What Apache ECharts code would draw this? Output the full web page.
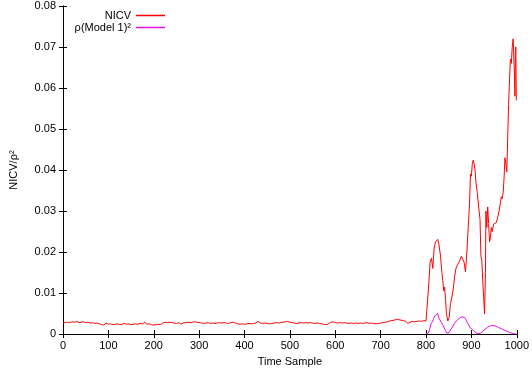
<!DOCTYPE html>
<html>
<head>
<meta charset="utf-8">
<script src="https://cdn.jsdelivr.net/npm/echarts@6/dist/echarts.min.js"></script>
<style>
  html, body { margin: 0; padding: 0; background: #fff; }
  #chart { width: 532px; height: 372px; }
</style>
</head>
<body>
<div id="chart"></div>
<script>
// quiet part of the NICV trace, one reading every 5 samples from 0 to 800
const baselineStep = 5;
const nicvBaseline = [
  0.0027, 0.0028, 0.0029, 0.0028, 0.0030, 0.0029, 0.0031, 0.0028, 0.0029, 0.0030, 0.0028,
  0.0029, 0.0027, 0.0028, 0.0026, 0.0027, 0.0025,
  0.0023, 0.0022, 0.0027, 0.0024,
  0.0025, 0.0023, 0.0024, 0.0025, 0.0023, 0.0024, 0.0026, 0.0024, 0.0025, 0.0023, 0.0024, 0.0025,
  0.0024, 0.0026, 0.0025, 0.0029, 0.0024, 0.0025, 0.0023, 0.0022, 0.0023, 0.0024, 0.0023,
  0.0027, 0.0029, 0.0028, 0.0029, 0.0028, 0.0027, 0.0026, 0.0028, 0.0024, 0.0027, 0.0028, 0.0029,
  0.0028, 0.0029, 0.0030, 0.0029, 0.0028,
  0.0027, 0.0026, 0.0027, 0.0028, 0.0026, 0.0027, 0.0026, 0.0027, 0.0028, 0.0027, 0.0028, 0.0027,
  0.0026, 0.0028, 0.0029, 0.0027, 0.0025, 0.0024, 0.0025, 0.0024,
  0.0025, 0.0026, 0.0025, 0.0026, 0.0027, 0.0031, 0.0027, 0.0026, 0.0027, 0.0026, 0.0025, 0.0026,
  0.0027, 0.0028, 0.0027, 0.0028, 0.0029, 0.0030, 0.0031, 0.0029,
  0.0028, 0.0027, 0.0026, 0.0027, 0.0028, 0.0027, 0.0028, 0.0027, 0.0028, 0.0027, 0.0026, 0.0027,
  0.0026, 0.0025, 0.0024, 0.0023, 0.0025, 0.0029, 0.0030, 0.0028,
  0.0027, 0.0028, 0.0027, 0.0028, 0.0027, 0.0026, 0.0027, 0.0026, 0.0027, 0.0026, 0.0027, 0.0026,
  0.0027, 0.0028, 0.0026, 0.0027, 0.0026, 0.0025, 0.0026, 0.0027,
  0.0028, 0.0029, 0.0030, 0.0032, 0.0033, 0.0034, 0.0036, 0.0035, 0.0034, 0.0033, 0.0031, 0.0026,
  0.0029, 0.0031, 0.0030, 0.0031, 0.0032, 0.0031, 0.0033, 0.0032
];

// active part of the NICV trace, 803..999
const nicvSamples = [
  803, 806, 809, 812, 815, 818, 821, 824, 826, 829, 832, 835, 837, 839, 841, 843, 845, 848,
  851, 854, 857, 860, 863, 866, 870, 874, 878, 881, 884, 887, 890, 893, 896, 898, 900, 902,
  904, 906, 908, 910, 913, 916, 919, 921, 923, 925, 927, 929, 931, 932, 934, 936, 938, 940,
  942, 944, 946, 949, 952, 955, 958, 961, 964, 966, 968, 970, 972, 974, 976, 978, 980, 982,
  984, 986, 988, 990, 992, 993, 995, 996, 997, 998, 999
];
const nicvValues = [
  0.0035, 0.0120, 0.0175, 0.0185, 0.0160, 0.0210, 0.0225, 0.0222, 0.0231, 0.0215, 0.0190, 0.0150,
  0.0130, 0.0105, 0.0115, 0.0085, 0.0050, 0.0032,
  0.0040, 0.0075, 0.0090, 0.0110, 0.0140, 0.0160, 0.0170, 0.0178, 0.0190, 0.0188, 0.0175, 0.0152,
  0.0200, 0.0260, 0.0320, 0.0390, 0.0385, 0.0415,
  0.0424, 0.0415, 0.0400, 0.0370, 0.0345, 0.0310, 0.0280, 0.0190, 0.0180, 0.0130, 0.0090, 0.0049,
  0.0150, 0.0300, 0.0260, 0.0310, 0.0270, 0.0225,
  0.0235, 0.0260, 0.0250, 0.0268, 0.0265, 0.0272, 0.0285, 0.0300, 0.0320, 0.0335, 0.0330, 0.0345,
  0.0380, 0.0430, 0.0415, 0.0395, 0.0480, 0.0560,
  0.0620, 0.0670, 0.0660, 0.0700, 0.0720, 0.0690, 0.0630, 0.0580, 0.0690, 0.0700, 0.0570
];

const rhoSamples = [
  800, 805, 808, 811, 814, 817, 820, 822, 824, 826, 828, 831, 834, 837, 840, 843, 846, 848,
  851, 854, 858, 862, 866, 870, 874, 878, 882, 885, 888, 891, 894, 897, 900, 904, 908, 912,
  916, 920, 924, 928, 932, 936, 940, 944, 948, 952, 956, 960, 964, 968, 972, 976, 980, 984,
  988, 992, 996, 1000
];
const rhoValues = [
  0.0000, 0.0002, 0.0012, 0.0025, 0.0030, 0.0038, 0.0045, 0.0049, 0.0046, 0.0050, 0.0040, 0.0038,
  0.0028, 0.0022, 0.0015, 0.0008, 0.0002, 0.0000,
  0.0004, 0.0010, 0.0017, 0.0025, 0.0031, 0.0036, 0.0040, 0.0042, 0.0044, 0.0041, 0.0035, 0.0028,
  0.0022, 0.0016, 0.0012, 0.0009, 0.0005, 0.0002,
  0.0000, 0.0001, 0.0005, 0.0010, 0.0013, 0.0017, 0.0020, 0.0021, 0.0020, 0.0020, 0.0018, 0.0016,
  0.0014, 0.0012, 0.0010, 0.0008, 0.0006, 0.0004,
  0.0002, 0.0001, 0.0000, 0.0000
];

const nicvData = nicvBaseline.map((v, i) => [i * baselineStep, v])
  .concat(nicvSamples.map((s, i) => [s, nicvValues[i]]));
const rhoData = rhoSamples.map((s, i) => [s, rhoValues[i]]);

const font = 'Liberation Sans, Arial, sans-serif';
const black = '#000';

const tickStyle = { show: true, inside: true, length: 4, lineStyle: { color: black } };
const lineAxis = { show: true, lineStyle: { color: black, width: 1 } };
const legendText = { fontFamily: font, fontSize: 11, color: black };

const chart = echarts.init(document.getElementById('chart'));

chart.setOption({
  animation: false,
  textStyle: { fontFamily: font },
  grid: { left: 60, right: 10, top: 6, bottom: 35 },
  legend: [
    {
      data: [{ name: 'NICV', icon: 'rect' }],
      right: 367,
      top: 10,
      padding: 0,
      align: 'right',
      itemWidth: 29,
      itemHeight: 1.5,
      textStyle: legendText,
    },
    {
      data: [{ name: 'ρ(Model 1)²', icon: 'rect' }],
      right: 367,
      top: 22,
      padding: 0,
      align: 'right',
      itemWidth: 29,
      itemHeight: 1.5,
      textStyle: legendText,
    },
  ],
  xAxis: [
    {
      type: 'value',
      position: 'bottom',
      min: 0,
      max: 1000,
      interval: 100,
      name: 'Time Sample',
      nameLocation: 'middle',
      nameGap: 18,
      nameTextStyle: { fontFamily: font, fontSize: 11, color: black },
      axisLine: lineAxis,
      axisTick: tickStyle,
      axisLabel: { fontFamily: font, fontSize: 11, color: black, margin: 6, formatter: v => String(v) },
      splitLine: { show: false },
    },
    {
      type: 'value',
      position: 'top',
      min: 0,
      max: 1000,
      interval: 100,
      axisLine: lineAxis,
      axisTick: tickStyle,
      axisLabel: { show: false },
      splitLine: { show: false },
    },
  ],
  yAxis: [
    {
      type: 'value',
      position: 'left',
      min: 0,
      max: 0.08,
      interval: 0.01,
      name: 'NICV/ρ²',
      nameLocation: 'middle',
      nameGap: 44,
      nameRotate: 90,
      nameTextStyle: { fontFamily: font, fontSize: 11, color: black },
      axisLine: lineAxis,
      axisTick: tickStyle,
      axisLabel: {
        fontFamily: font, fontSize: 11, color: black, margin: 7,
        formatter: v => (v === 0 ? '0' : v.toFixed(2)),
      },
      splitLine: { show: false },
    },
    {
      type: 'value',
      position: 'right',
      min: 0,
      max: 0.08,
      interval: 0.01,
      axisLine: lineAxis,
      axisTick: tickStyle,
      axisLabel: { show: false },
      splitLine: { show: false },
    },
  ],
  series: [
    {
      name: 'NICV',
      type: 'line',
      data: nicvData,
      showSymbol: false,
      symbol: 'none',
      color: '#ff0000',
      lineStyle: { width: 1, color: '#ff0000' },
    },
    {
      name: 'ρ(Model 1)²',
      type: 'line',
      data: rhoData,
      showSymbol: false,
      symbol: 'none',
      color: '#e010e8',
      lineStyle: { width: 1, color: '#e010e8' },
    },
  ],
});
</script>
</body>
</html>
